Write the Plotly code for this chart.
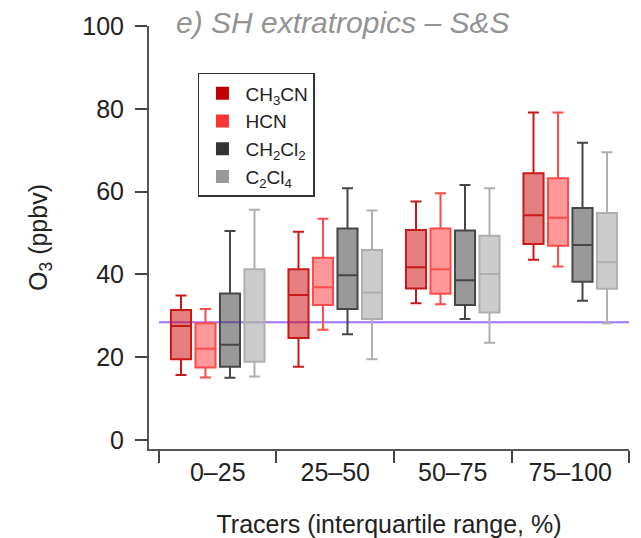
import plotly.graph_objects as go

categories = ["0–25", "25–50", "50–75", "75–100"]
cat_pos = [0, 1, 2, 3]
boundaries = [-0.5, 0.5, 1.5, 2.5, 3.5]

tracers = ["CH<sub>3</sub>CN", "HCN", "CH<sub>2</sub>Cl<sub>2</sub>", "C<sub>2</sub>Cl<sub>4</sub>"]

# box statistics (ppbv) per tracer, per category
lower = {
    "CH3CN":  [15.7, 17.7, 33.0, 43.5],
    "HCN":    [15.1, 26.6, 32.8, 41.9],
    "CH2Cl2": [15.0, 25.5, 29.2, 33.6],
    "C2Cl4":  [15.3, 19.5, 23.5, 28.2],
}
q1 = {
    "CH3CN":  [19.5, 24.6, 36.6, 47.3],
    "HCN":    [17.5, 32.6, 35.3, 46.9],
    "CH2Cl2": [17.7, 31.6, 32.6, 38.2],
    "C2Cl4":  [18.9, 29.2, 30.8, 36.5],
}
median = {
    "CH3CN":  [27.5, 35.0, 41.7, 54.3],
    "HCN":    [22.0, 36.9, 41.2, 53.7],
    "CH2Cl2": [23.0, 39.8, 38.6, 47.1],
    "C2Cl4":  [28.4, 35.6, 40.1, 42.9],
}
q3 = {
    "CH3CN":  [31.4, 41.2, 50.7, 64.4],
    "HCN":    [28.2, 44.0, 51.1, 63.2],
    "CH2Cl2": [35.4, 51.1, 50.6, 56.0],
    "C2Cl4":  [41.2, 45.9, 49.3, 54.8],
}
upper = {
    "CH3CN":  [34.9, 50.3, 57.6, 79.1],
    "HCN":    [31.6, 53.4, 59.6, 79.1],
    "CH2Cl2": [50.5, 60.8, 61.6, 71.8],
    "C2Cl4":  [55.6, 55.4, 60.8, 69.5],
}
reference_o3 = 28.4

keys = ["CH3CN", "HCN", "CH2Cl2", "C2Cl4"]
line_colors = ["rgb(200,25,25)", "rgb(255,75,75)", "rgb(70,70,70)", "rgb(175,175,175)"]
fill_colors = ["rgba(204,0,0,0.5)", "rgba(255,51,51,0.5)", "rgba(51,51,51,0.5)", "rgba(153,153,153,0.5)"]
swatch_colors = ["#c00000", "#ff3333", "#333333", "#999999"]

FONT = "Liberation Sans, Arial, Helvetica, sans-serif"

fig = go.Figure()
for i, k in enumerate(keys):
    fig.add_trace(go.Box(
        x=cat_pos,
        q1=q1[k], median=median[k], q3=q3[k],
        lowerfence=lower[k], upperfence=upper[k],
        name=tracers[i],
        line=dict(color=line_colors[i], width=2),
        fillcolor=fill_colors[i],
        whiskerwidth=0.55,
        showlegend=False,
        hoverinfo="skip",
    ))

for i, k in enumerate(keys):
    fig.add_trace(go.Scatter(
        x=[None], y=[None], mode="markers",
        marker=dict(symbol="square", size=13, color=swatch_colors[i]),
        name=tracers[i], showlegend=True,
    ))

fig.add_shape(type="line", xref="x", yref="y",
              x0=boundaries[0], x1=boundaries[-1], y0=reference_o3, y1=reference_o3,
              line=dict(color="#a070ff", width=2), layer="below")

fig.update_layout(
    width=641, height=538,
    margin=dict(l=149, r=12, t=26, b=89),
    paper_bgcolor="white", plot_bgcolor="white",
    boxmode="group", boxgap=0.166, boxgroupgap=0.18,
    font=dict(family=FONT, size=25, color="#222"),
    title=dict(text="<i>e) SH extratropics – S&S</i>", x=176/641, xanchor="left",
               y=1 - 22/538, yanchor="middle", xref="container", yref="container",
               font=dict(family=FONT, size=30, color="#939393")),
    legend=dict(x=0.102, y=0.889, xanchor="left", yanchor="top",
                bordercolor="#333", borderwidth=1.5, bgcolor="white",
                font=dict(family=FONT, size=19, color="#222"),
                itemwidth=36, tracegroupgap=0),
    xaxis=dict(range=[-0.585, 3.5], tickmode="array", tickvals=cat_pos, ticktext=categories,
               ticks="", showline=True, linecolor="#555", linewidth=2,
               showgrid=False, zeroline=False, automargin=False,
               minor=dict(tickmode="array", tickvals=boundaries, ticks="outside",
                          ticklen=12, tickwidth=1.5, tickcolor="#444", showgrid=False),
               title=dict(text="Tracers (interquartile range, %)", standoff=30,
                          font=dict(family=FONT, size=25))),
    yaxis=dict(range=[-2.2, 100], tickmode="array", tickvals=[0, 20, 40, 60, 80, 100],
               ticks="outside", ticklen=12, tickwidth=1.5, tickcolor="#444",
               ticklabelstandoff=6, automargin=False,
               showline=True, linecolor="#555", linewidth=2,
               showgrid=False, zeroline=False,
               title=dict(text="O<sub>3</sub> (ppbv)", standoff=28,
                          font=dict(family=FONT, size=25))),
)

fig.write_html("out.html")
